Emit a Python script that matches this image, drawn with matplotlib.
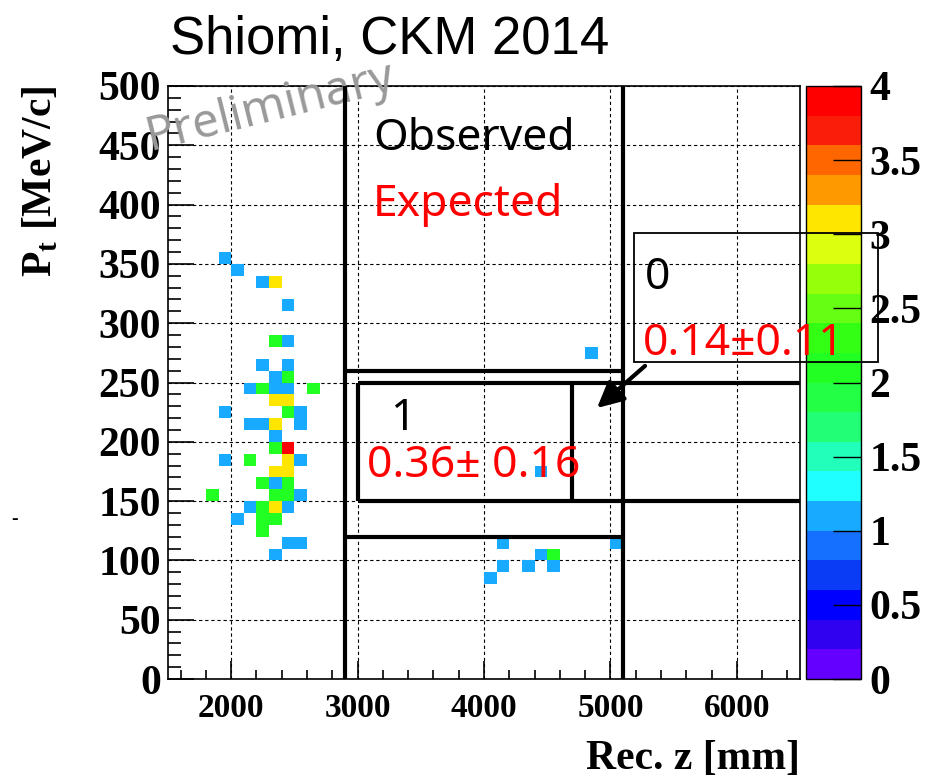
import numpy as np
import matplotlib
matplotlib.use("Agg")
import matplotlib.pyplot as plt
from matplotlib.colors import ListedColormap, Normalize
from matplotlib.patches import Rectangle, FancyArrowPatch
from matplotlib.cm import ScalarMappable

plt.rcParams["mathtext.fontset"] = "custom"
plt.rcParams["mathtext.bf"] = "Liberation Serif:bold"
plt.rcParams["mathtext.rm"] = "Liberation Serif:bold"

# ---------------- data (bin centres and counts) ----------------
z_mm = [1950, 2050, 2250, 2350, 2450, 2350, 2450, 2250, 2450, 2350, 2450,
        2150, 2250, 2350, 2450, 2650, 2350, 2450, 1950, 2450, 2550,
        2150, 2250, 2350, 2550, 2350, 2350, 2450, 1950, 2150, 2450, 2550,
        2350, 2450, 2250, 2350, 2450, 1850, 2350, 2450, 2550,
        2150, 2250, 2350, 2450, 2050, 2250, 2350, 2250, 2450, 2550, 2350,
        4150, 5050, 4450, 4550, 4150, 4350, 4550, 4050, 4450, 4850]
pt_mev = [355, 345, 335, 335, 315, 285, 285, 265, 265, 255, 255,
          245, 245, 245, 245, 245, 235, 235, 225, 225, 225,
          215, 215, 215, 215, 205, 195, 195, 185, 185, 185, 185,
          175, 175, 165, 165, 165, 155, 155, 155, 155,
          145, 145, 145, 145, 135, 135, 135, 125, 115, 115, 105,
          115, 115, 105, 105, 95, 95, 95, 85, 175, 275]
counts = [1, 1, 1, 3, 1, 2, 1, 1, 1, 1, 2,
          1, 2, 1, 1, 2, 3, 3, 1, 2, 1,
          1, 1, 3, 1, 1, 2, 4, 1, 2, 3, 1,
          3, 3, 2, 1, 2, 2, 2, 2, 1,
          1, 2, 3, 1, 1, 2, 2, 2, 1, 1, 1,
          1, 1, 1, 2, 1, 1, 1, 1, 1, 1]

x_ticks = [2000, 3000, 4000, 5000, 6000]
y_ticks = [0, 50, 100, 150, 200, 250, 300, 350, 400, 450, 500]
cbar_ticks = [0, 0.5, 1, 1.5, 2, 2.5, 3, 3.5, 4]
cbar_labels = ["0", "0.5", "1", "1.5", "2", "2.5", "3", "3.5", "4"]

# signal / control region boundaries
outer_z = [2900, 5100]
outer_pt = [120, 260]
inner_z = [3000, 6500]
inner_pt = [150, 250]
inner_split_z = 4700

observed_text = ["1", "0"]
expected_text = ["0.36\u00b1 0.16", "0.14\u00b10.11"]

palette = ["#6400ff", "#3000f0", "#0000ff", "#0b3cf5", "#1670ff",
           "#18aaff", "#1fffff", "#22ffbb", "#22ff77", "#22ff44",
           "#22ff22", "#33ff14", "#66ff14", "#96ff0a", "#dcff10",
           "#ffe600", "#ff9900", "#ff6600", "#fa1e0a", "#ff0000"]

# ---------------- figure ----------------
W, Hh = 926, 779
fig = plt.figure(figsize=(W / 100, Hh / 100), dpi=100)
fig.patch.set_facecolor("white")

L, R, T, B = 168, 800, 86, 679
ax = fig.add_axes([L / W, 1 - B / Hh, (R - L) / W, (B - T) / Hh])
ax.set_zorder(2)

z_edges = np.arange(1500, 6501, 100)
pt_edges = np.arange(0, 501, 10)
Hist, _, _ = np.histogram2d(z_mm, pt_mev, bins=[z_edges, pt_edges], weights=counts)
Hm = np.ma.masked_equal(Hist.T, 0)

cmap = ListedColormap(palette)
norm = Normalize(0, 4)
ax.pcolormesh(z_edges, pt_edges, Hm, cmap=cmap, norm=norm, zorder=2)

ax.set_xlim(1500, 6500)
ax.set_ylim(0, 500)

serif = "Liberation Serif"
sans = ["Noto Sans", "DejaVu Sans"]

ax.set_xticks(x_ticks)
ax.set_xticklabels([str(v) for v in x_ticks])
ax.set_yticks(y_ticks)
ax.set_yticklabels([str(v) for v in y_ticks])
ax.set_xticks(np.arange(1600, 6500, 200), minor=True)
ax.set_yticks(np.arange(10, 500, 10), minor=True)
for lab in ax.get_xticklabels():
    lab.set_fontfamily(serif); lab.set_fontweight("bold"); lab.set_fontsize(24)
for lab in ax.get_yticklabels():
    lab.set_fontfamily(serif); lab.set_fontweight("bold"); lab.set_fontsize(30)
ax.tick_params(axis="y", which="major", direction="in", length=19, width=1.2, pad=5,
               left=True, right=False)
ax.tick_params(axis="y", which="minor", direction="in", length=9.5, width=1.2,
               left=True, right=False)
ax.tick_params(axis="x", which="major", direction="in", length=13, width=1.2, pad=10,
               bottom=True, top=False)
ax.tick_params(axis="x", which="minor", direction="in", length=6.5, width=1.2,
               bottom=True, top=False)
for s in ax.spines.values():
    s.set_linewidth(1.2)

ax.grid(True, which="major", color="black", linestyle=(0, (3, 2.5)), linewidth=0.8, zorder=1)
ax.set_axisbelow(True)

# region lines
lw = 3.0
for zc in outer_z:
    ax.plot([zc, zc], [0, 500], color="black", lw=lw, zorder=4, solid_capstyle="butt")
for pc in outer_pt:
    ax.plot(outer_z, [pc, pc], color="black", lw=lw, zorder=4, solid_capstyle="butt")
for pc in inner_pt:
    ax.plot(inner_z, [pc, pc], color="black", lw=lw, zorder=4, solid_capstyle="butt")
ax.plot([inner_z[0], inner_z[0]], inner_pt, color="black", lw=lw, zorder=4, solid_capstyle="butt")
ax.plot([inner_split_z, inner_split_z], inner_pt, color="black", lw=lw, zorder=4, solid_capstyle="butt")

# texts
fs = 32
ax.text(3122, 446, "Observed", color="black", fontsize=fs, family=sans, va="baseline", zorder=6)
ax.text(3122, 390, "Expected", color="red", fontsize=fs, family=sans, va="baseline", zorder=6)
ax.text(3256, 210, observed_text[0], color="black", fontsize=fs, family=sans, va="baseline", zorder=6)
ax.text(3074, 170, expected_text[0], color="red", fontsize=fs, family=sans, va="baseline", zorder=6)
ax.text(5274, 329, observed_text[1], color="black", fontsize=fs, family=sans, va="baseline",
        zorder=6, clip_on=False)
ax.text(5258, 273, expected_text[1], color="red", fontsize=fs, family=sans, va="baseline",
        zorder=6, clip_on=False)

box = Rectangle((5187, 267), 7117 - 5187, 376 - 267, fill=False, edgecolor="black",
                lw=1.3, zorder=6, clip_on=False)
ax.add_patch(box)
arr = FancyArrowPatch((5274, 264), (4894, 228.5), arrowstyle="-|>,head_length=10,head_width=5",
                      color="black", lw=3, zorder=6, clip_on=False, mutation_scale=1.6,
                      shrinkA=0, shrinkB=0)
ax.add_patch(arr)

# watermark
ax.text(150 / W, 1 - 150 / Hh, "Preliminary", transform=fig.transFigure, rotation=14,
        rotation_mode="anchor", ha="left", va="baseline", fontsize=34, color="#999999",
        family="Noto Sans", zorder=3, clip_on=False)

# axis titles
fig.text(40 / W, 1 - 85 / Hh, r"P$_{\mathbf{t}}$ [MeV/c]", rotation=90, ha="center", va="top",
         fontsize=30, family=serif, fontweight="bold")
fig.text(R / W, 1 - 769 / Hh, "Rec. z [mm]", ha="right", va="baseline",
         fontsize=30, family=serif, fontweight="bold")
fig.text(170 / W, 1 - 54 / Hh, "Shiomi, CKM 2014", ha="left", va="baseline",
         fontsize=38, family="Liberation Sans")
fig.text(15 / W, 1 - 519 / Hh, "-", ha="center", va="center", fontsize=14,
         family=serif, fontweight="bold")

# colour bar
cax = fig.add_axes([806 / W, 1 - B / Hh, 55 / W, (B - T) / Hh])
cax.set_zorder(1)
sm = ScalarMappable(norm=norm, cmap=cmap)
cb = fig.colorbar(sm, cax=cax, ticks=cbar_ticks)
cb.set_ticklabels(cbar_labels)
cb.outline.set_linewidth(1.0)
cax.tick_params(direction="in", length=20, width=1.0, pad=6, right=True)
for lab in cax.get_yticklabels():
    lab.set_fontfamily(serif); lab.set_fontweight("bold"); lab.set_fontsize(30)

fig.savefig("out.png", dpi=100)
